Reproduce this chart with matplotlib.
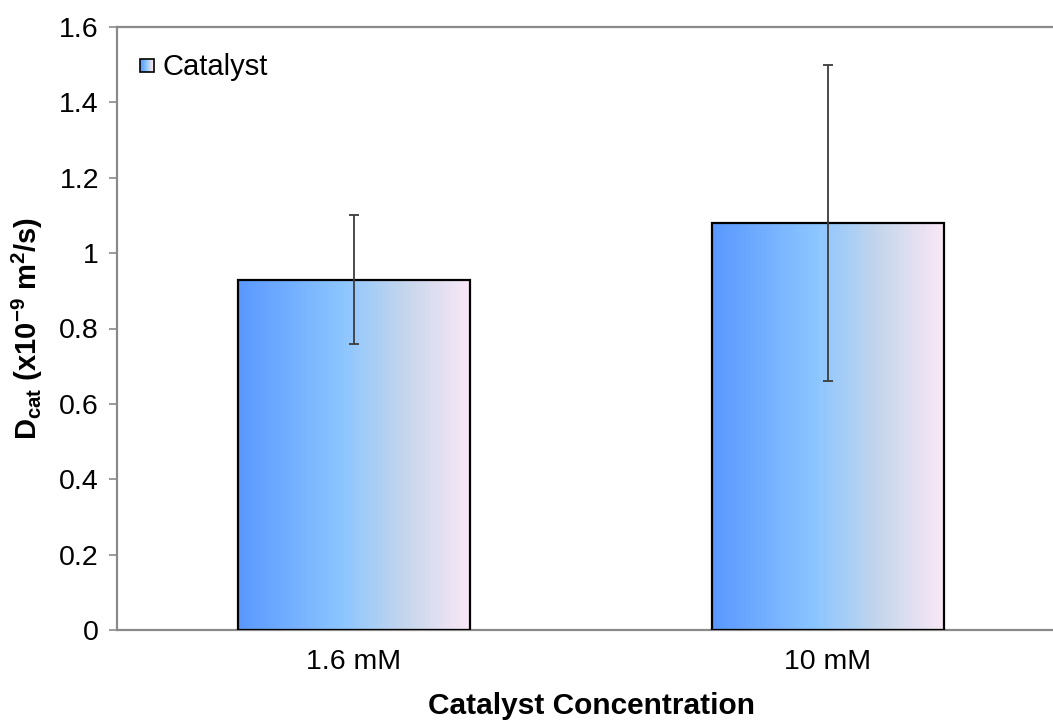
import numpy as np
import matplotlib
matplotlib.use("Agg")
import matplotlib.pyplot as plt
from matplotlib.colors import LinearSegmentedColormap
from matplotlib.patches import Rectangle
from matplotlib.legend_handler import HandlerBase
from matplotlib.ticker import FuncFormatter

plt.rcParams['font.family'] = ['Liberation Sans', 'DejaVu Sans']
plt.rcParams['mathtext.fontset'] = 'custom'
plt.rcParams['mathtext.rm'] = 'Liberation Sans'
plt.rcParams['mathtext.bf'] = 'Liberation Sans:bold'
plt.rcParams['mathtext.it'] = 'Liberation Sans:italic'

# Data
categories = ["1.6 mM", "10 mM"]
d_cat = [0.93, 1.08]
d_err = [0.17, 0.42]
series_name = "Catalyst"

# Horizontal gradient fill used for the bars
grad_cmap = LinearSegmentedColormap.from_list(
    "bar_grad",
    [(0.0, "#5a98ff"), (0.45, "#8cc6ff"), (0.72, "#c6d6ec"), (1.0, "#fbe8f6")],
)

fig = plt.figure(figsize=(10.53, 7.25), dpi=100)
ax = fig.add_axes([117 / 1053, 1 - 630 / 725, (1065 - 117) / 1053, (630 - 27) / 725])

x = np.arange(len(categories))
width = 0.49
bars = ax.bar(x, d_cat, width=width, facecolor="none", edgecolor="black",
              linewidth=1.6, zorder=3)

grad = np.linspace(0, 1, 256).reshape(1, -1)
for b in bars:
    x0, y0 = b.get_x(), b.get_y()
    w, h = b.get_width(), b.get_height()
    im = ax.imshow(grad, cmap=grad_cmap, aspect="auto",
                   extent=[x0, x0 + w, y0, y0 + h], zorder=2,
                   interpolation="bilinear")
    im.set_clip_path(b)

ax.errorbar(x, d_cat, yerr=d_err, fmt="none", ecolor="#3c3c3c",
            elinewidth=1.3, capsize=3.6, capthick=1.3, zorder=4)

ax.set_xlim(-0.5, 1.5)
ax.set_ylim(0, 1.6)
ax.set_yticks(np.arange(0, 1.61, 0.2))
ax.yaxis.set_major_formatter(FuncFormatter(lambda v, p: "%g" % round(v, 2)))
ax.set_xticks(x)
ax.set_xticklabels(categories)

for side in ("left", "bottom", "top"):
    ax.spines[side].set_color("#8a8a8a")
    ax.spines[side].set_linewidth(1.6)
ax.spines["right"].set_visible(False)

ax.tick_params(axis="y", direction="out", length=6, width=1.2, color="#8a8a8a",
               labelsize=20.5, pad=7, labelcolor="black")
ax.tick_params(axis="x", length=0, labelsize=20.5, pad=14, labelcolor="black")

ax.set_xlabel("Catalyst Concentration", fontsize=21.5, fontweight="bold", labelpad=12)
ax.set_ylabel(r"$\mathbf{D_{cat}\ (x10^{-9}\ m^2/s)}$", fontsize=21, labelpad=10)


class GradientSquare(HandlerBase):
    def create_artists(self, legend, orig_handle, xdescent, ydescent,
                       width, height, fontsize, trans):
        side = 9.5
        x0 = -xdescent + (width - side) - 1
        y0 = -ydescent + (height - side) / 2
        artists = []
        n = 12
        for i in range(n):
            r = Rectangle((x0 + side * i / n, y0), side / n, side,
                          facecolor=grad_cmap((i + 0.5) / n), edgecolor="none",
                          transform=trans)
            artists.append(r)
        artists.append(Rectangle((x0, y0), side, side, facecolor="none",
                                 edgecolor="black", linewidth=1.2, transform=trans))
        return artists


leg = ax.legend([bars[0]], [series_name], handler_map={type(bars[0]): GradientSquare()},
                loc="upper left", bbox_to_anchor=(0.0, 0.99), frameon=False,
                fontsize=21, handlelength=0.6, handletextpad=0.25,
                borderaxespad=0.3)

fig.savefig("out.png", dpi=100)
